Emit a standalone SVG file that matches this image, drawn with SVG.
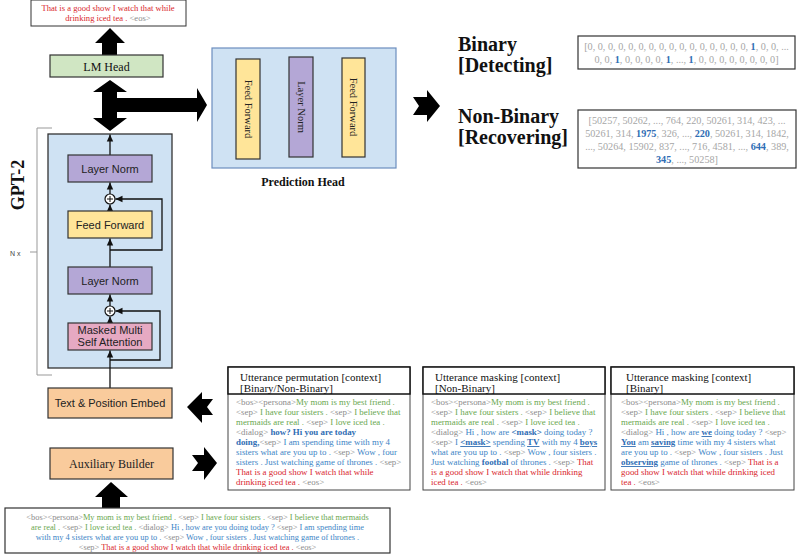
<svg xmlns="http://www.w3.org/2000/svg" width="800" height="554" viewBox="0 0 800 554">
<defs>
<marker id="ah" markerWidth="8" markerHeight="8" refX="7" refY="4" orient="auto" markerUnits="userSpaceOnUse">
<path d="M0,0.8 L7,4 L0,7.2 Z" fill="#111"/>
</marker>
<style>
.serif{font-family:"Liberation Serif","DejaVu Serif",serif}
.sans{font-family:"Liberation Sans",Arial,sans-serif}
.box{stroke:#333;stroke-width:1.2}
.ln{fill:#b4a7d6}
.ff{fill:#ffe599}
.or{fill:#f9cb9c}
.blk{fill:#000}
.thin{stroke:#111;stroke-width:1.3;fill:none}
.g{fill:#8c8c8c}
.gr{fill:#6aa84f}
.b{fill:#3d85c6}
.bb{fill:#2f6db4;font-weight:bold}
.u{text-decoration:underline}
.r{fill:#d9262c}
.body{font-size:8.9px}
.ibody{font-size:8.4px}
.hdr{font-size:11px;fill:#111}
.arr{font-size:10.2px;fill:#a6a6a6}
.big{font-size:20px;font-weight:bold;fill:#111}
</style>
</defs>

<!-- connectors -->
<g id="connectors">
<polygon class="blk" points="102,55 102,43 95,43 110,28 125,43 117,43 117,55"/>
<polygon class="blk" points="110,80 127,92 117,92 117,98 197,98 197,88 207,105 197,122 197,112 117,112 117,118 127,118 110,131 93,118 102,118 102,92 93,92"/>
<polygon class="blk" points="440,106 427,90 427,97 413,97 419,106 413,115 427,115 427,122"/>
<polygon class="blk" points="187,407 202,392 202,399 213,399 207,407 213,415 202,415 202,423"/>
<polygon class="blk" points="217,463 204,447 204,455 192,455 198,463 192,471 204,471 204,480"/>
<polygon class="blk" points="111,482 128,497 120,497 120,508 102,508 102,497 95,497"/>
<line class="thin" x1="212" y1="106" x2="236" y2="106" marker-end="url(#ah)"/>
<line class="thin" x1="260" y1="106" x2="289" y2="106" marker-end="url(#ah)"/>
<line class="thin" x1="313" y1="106" x2="342" y2="106" marker-end="url(#ah)"/>
<line class="thin" x1="365" y1="106" x2="396" y2="106" marker-end="url(#ah)"/>
</g>

<g id="output">
<rect x="31" y="0" width="155" height="26" fill="#fff" stroke="#333" stroke-width="1"/>
<text class="serif" x="108" y="11" font-size="8.6" text-anchor="middle"><tspan class="r">That is a good show I watch that while</tspan></text>
<text class="serif" x="108" y="21" font-size="8.6" text-anchor="middle"><tspan class="r">drinking iced tea . </tspan><tspan class="g">&lt;eos&gt;</tspan></text>
</g>

<g id="lmhead">
<rect x="50" y="55" width="113" height="22" fill="#d0e6c3" class="box"/>
<text class="serif" x="106.5" y="70.5" font-size="12" text-anchor="middle" fill="#111">LM Head</text>
</g>

<g id="prediction-head">
<rect x="212" y="48" width="184" height="120" fill="#cfe2f3" stroke="#6c8ebf" stroke-width="1.2"/>
<rect x="236" y="59" width="24" height="100" class="box ff"/>
<rect x="289" y="57" width="24" height="100" class="box ln"/>
<rect x="342" y="58" width="23" height="99" class="box ff"/>
<text class="serif" font-size="10.5" text-anchor="middle" fill="#222" transform="translate(248,109) rotate(90)" y="3.5">Feed Forward</text>
<text class="serif" font-size="10.5" text-anchor="middle" fill="#222" transform="translate(301,107) rotate(90)" y="3.5">Layer Norm</text>
<text class="serif" font-size="10.5" text-anchor="middle" fill="#222" transform="translate(353.5,107) rotate(90)" y="3.5">Feed Forward</text>
<text class="serif" x="303" y="186" font-size="12" font-weight="bold" text-anchor="middle" fill="#111">Prediction Head</text>
</g>

<g id="labels">
<text class="serif big" x="458" y="51">Binary</text>
<text class="serif big" x="458" y="72">[Detecting]</text>
<text class="serif big" x="458" y="123">Non-Binary</text>
<text class="serif big" x="458" y="144">[Recovering]</text>
</g>

<g id="binary-array">
<rect x="578" y="36" width="217" height="33" fill="#fff" stroke="#333" stroke-width="1.2"/>
<text class="serif arr" x="686.5" y="50" text-anchor="middle">[0, 0, 0, 0, 0, 0, 0, 0, 0, 0, 0, 0, 0, 0, 0, 0, <tspan class="bb">1</tspan>, 0, 0, ...</text>
<text class="serif arr" x="686.5" y="63" text-anchor="middle">0, 0, <tspan class="bb">1</tspan>, 0, 0, 0, 0, <tspan class="bb">1</tspan>, ..., <tspan class="bb">1</tspan>, 0, 0, 0, 0, 0, 0, 0, 0]</text>
</g>

<g id="nonbinary-array">
<rect x="578" y="110" width="218" height="58" fill="#fff" stroke="#333" stroke-width="1.2"/>
<text class="serif arr" x="687" y="124" text-anchor="middle">[50257, 50262, ..., 764, 220, 50261, 314, 423, ...</text>
<text class="serif arr" x="687" y="137" text-anchor="middle">50261, 314, <tspan class="bb">1975</tspan>, 326, ..., <tspan class="bb">220</tspan>, 50261, 314, 1842,</text>
<text class="serif arr" x="687" y="150" text-anchor="middle">..., 50264, 15902, 837, ..., 716, 4581, ..., <tspan class="bb">644</tspan>, 389,</text>
<text class="serif arr" x="687" y="163" text-anchor="middle"><tspan class="bb">345</tspan>, ..., 50258]</text>
</g>

<g id="gpt2">
<path d="M52,128 L37,128 L37,375 L52,375" fill="none" stroke="#999" stroke-width="1"/>
<line x1="30" y1="252" x2="37" y2="252" stroke="#999" stroke-width="1"/>
<text class="sans" x="10" y="256" font-size="7" fill="#444">N x</text>
<text class="serif" font-size="18" font-weight="bold" text-anchor="middle" fill="#111" transform="translate(24,185) rotate(-90)">GPT-2</text>
<rect x="48" y="134" width="124" height="234" fill="#cfe2f3" stroke="#333" stroke-width="1.3"/>
<line class="thin" x1="110" y1="155" x2="110" y2="134.5" marker-end="url(#ah)"/>
<rect id="ln1" x="68" y="155" width="84" height="27" class="box ln"/>
<text class="sans" x="110" y="172.5" font-size="11" text-anchor="middle" fill="#222">Layer Norm</text>
<line class="thin" x1="110" y1="194" x2="110" y2="182.5" marker-end="url(#ah)"/>
<circle cx="110" cy="199" r="5" fill="#fff" stroke="#111" stroke-width="1.2"/>
<path d="M107,199 H113 M110,196 V202" stroke="#111" stroke-width="1"/>
<line class="thin" x1="110" y1="211" x2="110" y2="204.5" marker-end="url(#ah)"/>
<polyline class="thin" points="110,250 162,250 162,199 115.5,199" marker-end="url(#ah)"/>
<rect id="ff1" x="68" y="211" width="84" height="27" class="box ff"/>
<text class="sans" x="110" y="228.5" font-size="11" text-anchor="middle" fill="#222">Feed Forward</text>
<line class="thin" x1="110" y1="267" x2="110" y2="238.5" marker-end="url(#ah)"/>
<rect id="ln2" x="68" y="267" width="84" height="27" class="box ln"/>
<text class="sans" x="110" y="284.5" font-size="11" text-anchor="middle" fill="#222">Layer Norm</text>
<line class="thin" x1="110" y1="306" x2="110" y2="294.5" marker-end="url(#ah)"/>
<circle cx="110" cy="311" r="5" fill="#fff" stroke="#111" stroke-width="1.2"/>
<path d="M107,311 H113 M110,308 V314" stroke="#111" stroke-width="1"/>
<line class="thin" x1="110" y1="323" x2="110" y2="316.5" marker-end="url(#ah)"/>
<polyline class="thin" points="110,360 160,360 160,311 115.5,311" marker-end="url(#ah)"/>
<rect id="mmsa" x="68" y="323" width="84" height="27" class="box" fill="#e6a9c2"/>
<text class="sans" x="110" y="334" font-size="11" text-anchor="middle" fill="#222">Masked Multi</text>
<text class="sans" x="110" y="346" font-size="11" text-anchor="middle" fill="#222">Self Attention</text>
<line class="thin" x1="110" y1="388" x2="110" y2="350.5" marker-end="url(#ah)"/>
</g>

<g id="embed">
<rect x="48" y="388" width="124" height="30" class="box or"/>
<text class="sans" x="110" y="407" font-size="11" text-anchor="middle" fill="#222">Text &amp; Position Embed</text>
</g>

<g id="aux-builder">
<rect x="50" y="448" width="123" height="31" class="box or"/>
<text class="serif" x="111.5" y="468" font-size="12" text-anchor="middle" fill="#222">Auxiliary Builder</text>
</g>

<g id="input" class="serif ibody">
<rect x="5" y="508" width="385" height="45" fill="#fff" stroke="#333" stroke-width="1.2"/>
<text x="197.5" y="520" text-anchor="middle"><tspan class="g">&lt;bos&gt;&lt;persona&gt;</tspan><tspan class="gr">My mom is my best friend . </tspan><tspan class="g">&lt;sep&gt;</tspan><tspan class="gr"> I have four sisters . </tspan><tspan class="g">&lt;sep&gt;</tspan><tspan class="gr"> I believe that mermaids</tspan></text>
<text x="197.5" y="530" text-anchor="middle"><tspan class="gr">are real . </tspan><tspan class="g">&lt;sep&gt;</tspan><tspan class="gr"> I love iced tea . </tspan><tspan class="g">&lt;dialog&gt;</tspan><tspan class="b"> Hi , how are you doing today ? </tspan><tspan class="g">&lt;sep&gt;</tspan><tspan class="b"> I am spending time</tspan></text>
<text x="197.5" y="540" text-anchor="middle"><tspan class="b">with my 4 sisters what are you up to . </tspan><tspan class="g">&lt;sep&gt;</tspan><tspan class="b"> Wow , four sisters . Just watching game of thrones .</tspan></text>
<text x="197.5" y="550" text-anchor="middle"><tspan class="g">&lt;sep&gt;</tspan><tspan class="r"> That is a good show I watch that while drinking iced tea . </tspan><tspan class="g">&lt;eos&gt;</tspan></text>
</g>

<g id="utt-perm" class="serif">
<rect x="228" y="367" width="182" height="123" fill="#fff" stroke="#444" stroke-width="1"/>
<rect x="228" y="367" width="182" height="27" fill="#fff" stroke="#111" stroke-width="1.5"/>
<text class="hdr" x="240" y="381">Utterance permutation [context]</text>
<text class="hdr" x="240" y="392">[Binary/Non-Binary]</text>
<g class="body">
<text x="236" y="405"><tspan class="g">&lt;bos&gt;&lt;persona&gt;</tspan><tspan class="gr">My mom is my best friend .</tspan></text>
<text x="236" y="415"><tspan class="g">&lt;sep&gt;</tspan><tspan class="gr"> I have four sisters . </tspan><tspan class="g">&lt;sep&gt;</tspan><tspan class="gr"> I believe that</tspan></text>
<text x="236" y="425"><tspan class="gr">mermaids are real . </tspan><tspan class="g">&lt;sep&gt;</tspan><tspan class="gr"> I love iced tea .</tspan></text>
<text x="236" y="435"><tspan class="g">&lt;dialog&gt; </tspan><tspan class="bb">how? Hi you are today</tspan></text>
<text x="236" y="445"><tspan class="bb">doing,</tspan><tspan class="g">&lt;sep&gt;</tspan><tspan class="b"> I am spending time with my 4</tspan></text>
<text x="236" y="455"><tspan class="b">sisters what are you up to . </tspan><tspan class="g">&lt;sep&gt;</tspan><tspan class="b"> Wow , four</tspan></text>
<text x="236" y="465"><tspan class="b">sisters . Just watching game of thrones . </tspan><tspan class="g">&lt;sep&gt;</tspan></text>
<text x="236" y="475"><tspan class="r">That is a good show I watch that while</tspan></text>
<text x="236" y="485"><tspan class="r">drinking iced tea . </tspan><tspan class="g">&lt;eos&gt;</tspan></text>
</g>
</g>

<g id="utt-mask-nb" class="serif">
<rect x="423" y="367" width="182" height="123" fill="#fff" stroke="#444" stroke-width="1"/>
<rect x="423" y="367" width="182" height="27" fill="#fff" stroke="#111" stroke-width="1.5"/>
<text class="hdr" x="435" y="381">Utterance masking [context]</text>
<text class="hdr" x="435" y="392">[Non-Binary]</text>
<g class="body">
<text x="431" y="405"><tspan class="g">&lt;bos&gt;&lt;persona&gt;</tspan><tspan class="gr">My mom is my best friend .</tspan></text>
<text x="431" y="415"><tspan class="g">&lt;sep&gt;</tspan><tspan class="gr"> I have four sisters . </tspan><tspan class="g">&lt;sep&gt;</tspan><tspan class="gr"> I believe that</tspan></text>
<text x="431" y="425"><tspan class="gr">mermaids are real . </tspan><tspan class="g">&lt;sep&gt;</tspan><tspan class="gr"> I love iced tea .</tspan></text>
<text x="431" y="435"><tspan class="g">&lt;dialog&gt;</tspan><tspan class="b"> Hi , how are </tspan><tspan class="bb">&lt;mask&gt;</tspan><tspan class="b"> doing today ?</tspan></text>
<text x="431" y="445"><tspan class="g">&lt;sep&gt;</tspan><tspan class="b"> I </tspan><tspan class="bb u">&lt;mask&gt;</tspan><tspan class="b"> spending </tspan><tspan class="bb u">TV</tspan><tspan class="b"> with my 4 </tspan><tspan class="bb u">boys</tspan></text>
<text x="431" y="455"><tspan class="b">what are you up to . </tspan><tspan class="g">&lt;sep&gt;</tspan><tspan class="b"> Wow , four sisters .</tspan></text>
<text x="431" y="465"><tspan class="b">Just watching </tspan><tspan class="bb">footbal</tspan><tspan class="b"> of thrones . </tspan><tspan class="g">&lt;sep&gt;</tspan><tspan class="r"> That</tspan></text>
<text x="431" y="475"><tspan class="r">is a good show I watch that while drinking</tspan></text>
<text x="431" y="485"><tspan class="r">iced tea . </tspan><tspan class="g">&lt;eos&gt;</tspan></text>
</g>
</g>

<g id="utt-mask-b" class="serif">
<rect x="611" y="367" width="183" height="123" fill="#fff" stroke="#444" stroke-width="1"/>
<rect x="611" y="367" width="183" height="27" fill="#fff" stroke="#111" stroke-width="1.5"/>
<text class="hdr" x="626" y="381">Utterance masking [context]</text>
<text class="hdr" x="626" y="392">[Binary]</text>
<g class="body">
<text x="621" y="405"><tspan class="g">&lt;bos&gt;&lt;persona&gt;</tspan><tspan class="gr">My mom is my best friend .</tspan></text>
<text x="621" y="415"><tspan class="g">&lt;sep&gt;</tspan><tspan class="gr"> I have four sisters . </tspan><tspan class="g">&lt;sep&gt;</tspan><tspan class="gr"> I believe that</tspan></text>
<text x="621" y="425"><tspan class="gr">mermaids are real . </tspan><tspan class="g">&lt;sep&gt;</tspan><tspan class="gr"> I love iced tea .</tspan></text>
<text x="621" y="435"><tspan class="g">&lt;dialog&gt;</tspan><tspan class="b"> Hi , how are </tspan><tspan class="bb u">we</tspan><tspan class="b"> doing today ? </tspan><tspan class="g">&lt;sep&gt;</tspan></text>
<text x="621" y="445"><tspan class="bb u">You</tspan><tspan class="b"> am </tspan><tspan class="bb u">saving</tspan><tspan class="b"> time with my 4 sisters what</tspan></text>
<text x="621" y="455"><tspan class="b">are you up to . </tspan><tspan class="g">&lt;sep&gt;</tspan><tspan class="b"> Wow , four sisters . Just</tspan></text>
<text x="621" y="465"><tspan class="bb u">observing</tspan><tspan class="b"> game of thrones . </tspan><tspan class="g">&lt;sep&gt;</tspan><tspan class="r"> That is a</tspan></text>
<text x="621" y="475"><tspan class="r">good show I watch that while drinking iced</tspan></text>
<text x="621" y="485"><tspan class="r">tea . </tspan><tspan class="g">&lt;eos&gt;</tspan></text>
</g>
</g>
</svg>
